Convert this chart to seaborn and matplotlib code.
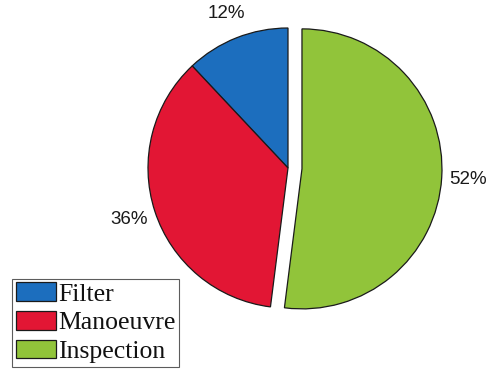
import matplotlib
matplotlib.use("Agg")
import matplotlib.pyplot as plt
import seaborn as sns

# Share of tasks by type
categories = ["Filter", "Manoeuvre", "Inspection"]
shares = [12, 36, 52]
colors = ["#1c6ebe", "#e21634", "#91c43a"]
explode = [0, 0, 0.1]

sns.set_theme(style="white")
plt.rcParams["font.family"] = ["Liberation Sans", "DejaVu Sans"]

fig = plt.figure(figsize=(4.95, 3.78), dpi=100)
ax = fig.add_axes([78 / 495, 42 / 378, 420 / 495, 336 / 378])

wedges, texts, autotexts = ax.pie(
    shares,
    colors=colors,
    explode=explode,
    startangle=90,
    counterclock=True,
    autopct="%1.0f%%",
    pctdistance=1.19,
    wedgeprops=dict(edgecolor="#1a1a1a", linewidth=0.9),
    textprops=dict(fontsize=13.5, color="#1a1a1a"),
)
ax.set_xlim(-1.5, 1.5)
ax.set_ylim(-1.2, 1.2)
ax.set_aspect("equal")

leg = fig.legend(
    wedges,
    categories,
    loc="lower left",
    bbox_to_anchor=(12 / 495, 11 / 378),
    bbox_transform=fig.transFigure,
    borderaxespad=0,
    prop=dict(family="Liberation Serif", size=18.5),
    frameon=True,
    fancybox=False,
    handlelength=1.55,
    handleheight=0.72,
    handletextpad=0.1,
    labelspacing=0.22,
    borderpad=0.15,
)
leg.get_frame().set_edgecolor("#333333")
leg.get_frame().set_linewidth(0.8)
for t in leg.get_texts():
    t.set_color("#111111")

fig.savefig("out.png", dpi=100)
